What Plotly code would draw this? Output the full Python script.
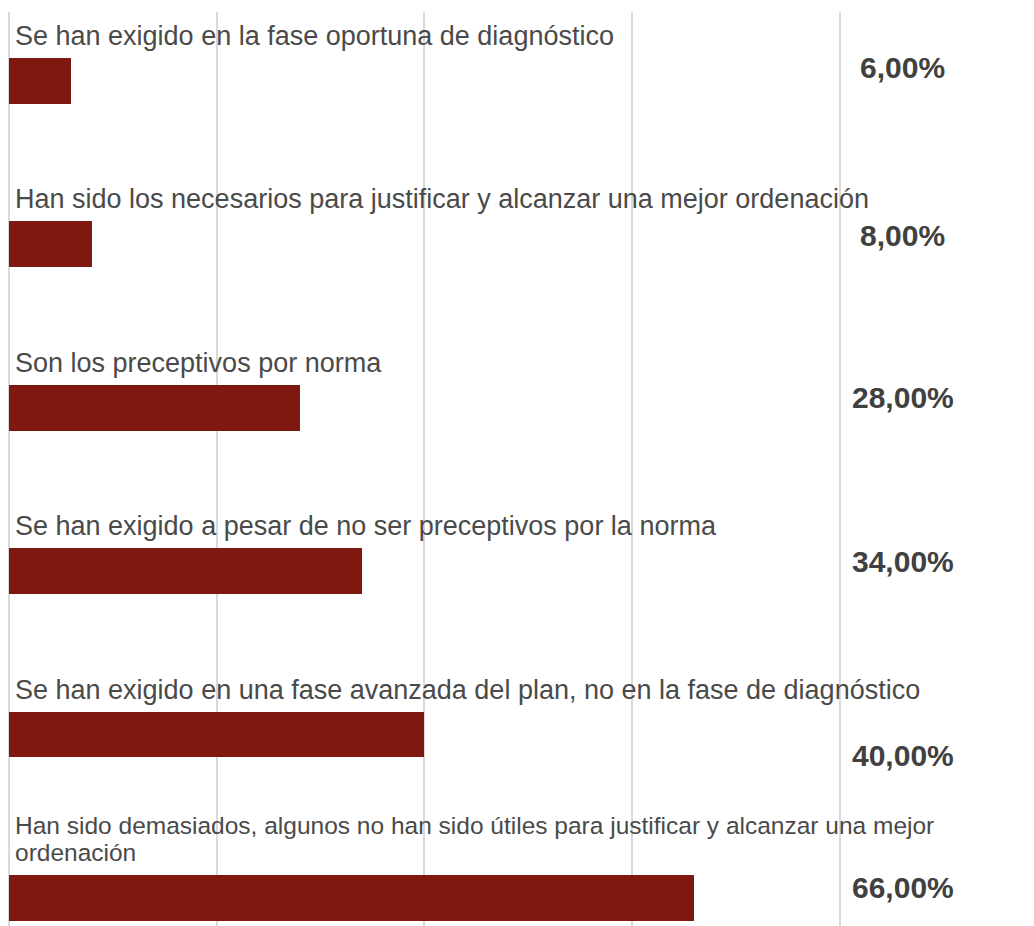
"""
Horizontal bar chart: share of answers per statement, labels above the bars.
"""

import plotly.graph_objects as go

BAR_COLOR = "#7F1810"
GRID_COLOR = "#D9D9D9"
LABEL_COLOR = "#4A4A4A"
VALUE_COLOR = "#404040"
FONT = "Liberation Sans, Arial, sans-serif"

# data (top to bottom)
categories = [
    "Se han exigido en la fase oportuna de diagnóstico",
    "Han sido los necesarios para justificar y alcanzar una mejor ordenación",
    "Son los preceptivos por norma",
    "Se han exigido a pesar de no ser preceptivos por la norma",
    "Se han exigido en una fase avanzada del plan, no en la fase de diagnóstico",
    "Han sido demasiados, algunos no han sido útiles para justificar y alcanzar una mejor<br>ordenación",
]
values = [6.0, 8.0, 28.0, 34.0, 40.0, 66.0]

# styling per row: vertical nudge of the value label (px, + = up), label font size
value_shift = [13, 9, 10, 10, -21, 10]
label_size = [27, 27, 27, 27, 27, 24.5]


def fmt_pct(v):
    return f"{v:.2f}".replace(".", ",") + "%"


fig = go.Figure()
fig.add_trace(go.Bar(
    x=values, y=categories, orientation="h",
    width=0.28,
    marker=dict(color=BAR_COLOR, line=dict(width=0)),
    hoverinfo="skip",
))

annotations = []
for cat, val, shift, size in zip(categories, values, value_shift, label_size):
    lines = cat.split("<br>")
    for i, line in enumerate(lines):
        annotations.append(dict(
            x=0, y=cat, xref="x", yref="y",
            text=line, showarrow=False,
            xanchor="left", yanchor="middle",
            xshift=4, yshift=45 + 27 * (len(lines) - 1 - i),
            font=dict(family=FONT, size=size, color=LABEL_COLOR),
        ))
    annotations.append(dict(
        x=86.1, y=cat, xref="x", yref="y",
        text=f"<b>{fmt_pct(val)}</b>", showarrow=False,
        xanchor="center", yanchor="middle",
        yshift=shift,
        font=dict(family=FONT, size=30, color=VALUE_COLOR),
    ))

# the page adds an 8px body margin, so the figure margins are reduced by it
fig.update_layout(
    width=1034, height=926,
    margin=dict(l=1, r=0, t=4, b=0),
    paper_bgcolor="white",
    plot_bgcolor="white",
    showlegend=False,
    bargap=0,
    font=dict(family=FONT),
    annotations=annotations,
    xaxis=dict(
        range=[0, 99.5],
        dtick=20,
        showgrid=True, gridcolor=GRID_COLOR, gridwidth=2,
        zeroline=True, zerolinecolor=GRID_COLOR, zerolinewidth=2,
        showticklabels=False, showline=False, ticks="",
    ),
    yaxis=dict(
        type="category",
        categoryorder="array", categoryarray=categories,
        range=[5.221, -0.422],
        showgrid=False, zeroline=False,
        showticklabels=False, showline=False, ticks="",
    ),
)

fig.write_html("out.html")
